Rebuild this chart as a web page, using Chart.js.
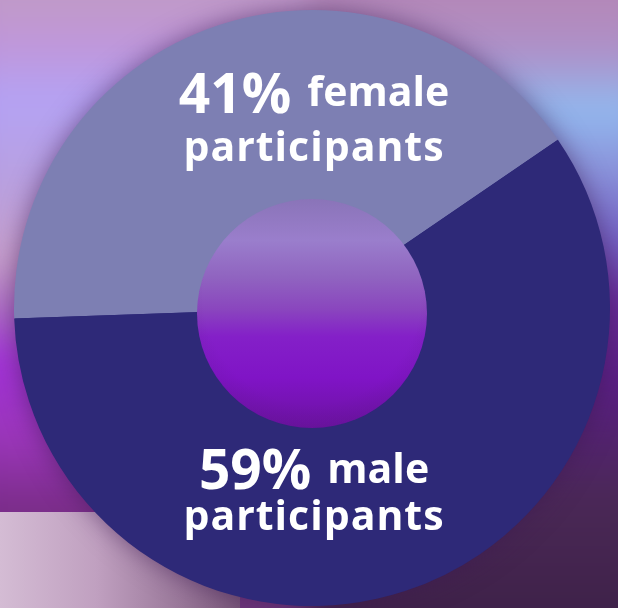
<!DOCTYPE html>
<html>
<head>
<meta charset="utf-8">
<script src="https://cdn.jsdelivr.net/npm/chart.js@4.4.1/dist/chart.umd.min.js"></script>
<style>
  html, body { margin: 0; padding: 0; }
  body { width: 618px; height: 608px; overflow: hidden; position: relative; background: #7a4a98; }
  /* soft blurred backdrop */
  .bg { position: absolute; left: -30px; top: -30px; width: 678px; height: 668px; filter: blur(14px); }
  .bg .l, .bg .r { position: absolute; top: 0; height: 100%; width: 50%; }
  .bg .l {
    left: 0;
    background: linear-gradient(to bottom,
      #c09ac8 30px, #c096d8 70px, #b4a2f4 130px, #b8a0e0 210px, #c8a0cc 290px,
      #b070c8 340px, #a332d8 390px, #9a36b8 470px, #7a2c88 540px, #6a3a78 668px);
  }
  .bg .r {
    right: 0;
    background: linear-gradient(to bottom,
      #b488b8 30px, #ae90c8 80px, #92b8ee 140px, #8a92da 200px, #7462c4 270px,
      #6a2c9c 330px, #5a1e84 410px, #4a2856 530px, #3c2046 668px);
  }
  .floor {
    position: absolute; left: 0; top: 512px; width: 240px; height: 96px;
    background: linear-gradient(to right, #d4bcd4 0%, #c0a0c0 40%, #9a789a 75%, #7a587a 100%);
  }
  #donut { position: absolute; left: 0; top: 0; }
  .orb {
    position: absolute; left: 197px; top: 199px; width: 230px; height: 229px; border-radius: 50%;
    background:
      radial-gradient(circle at 50% 42%, rgba(0,0,0,0) 62%, rgba(70,20,100,0.35) 100%),
      linear-gradient(to bottom, #8a74b8 0%, #9a7ecc 18%, #9064c0 34%, #8a46be 48%, #8420c8 60%, #8014c6 78%, #6c12a2 100%);
  }
</style>
</head>
<body>
<div class="bg"><div class="l"></div><div class="r"></div></div>
<div class="floor"></div>
<canvas id="donut" width="618" height="608"></canvas>
<div class="orb"></div>
<script>
const categories = ['female', 'male'];
const shares = [41, 59];
const sliceColors = ['#7d7fb3', '#2e2978'];

// dark glow under the whole ring, drawn once so slices don't shade each other
const ringShadow = {
  id: 'ringShadow',
  beforeDatasetsDraw(chart) {
    const arc = chart.getDatasetMeta(0).data[0];
    const c = chart.ctx;
    c.save();
    c.shadowColor = 'rgba(60, 25, 80, 0.6)';
    c.shadowBlur = 26;
    c.fillStyle = sliceColors[1];
    c.beginPath();
    c.arc(arc.x, arc.y, arc.outerRadius - 1, 0, Math.PI * 2);
    c.arc(arc.x, arc.y, arc.innerRadius + 1, 0, Math.PI * 2, true);
    c.fill('evenodd');
    c.restore();
  }
};

// two-line captions: big percentage + category, then "participants"
const captionPos = [
  { num: -195, word: -202, second: -147 },
  { num: 181, word: 175, second: 222 }
];

const sliceCaptions = {
  id: 'sliceCaptions',
  afterDatasetsDraw(chart) {
    const arc = chart.getDatasetMeta(0).data[0];
    const c = chart.ctx;
    const numFont = 'bold 55px "Open Sans"';
    const wordFont = 'bold 41px "Open Sans"';
    const gap = 16;
    c.save();
    c.fillStyle = '#ffffff';
    c.textBaseline = 'alphabetic';
    categories.forEach((name, i) => {
      const pos = captionPos[i];
      const num = shares[i] + '%';
      c.letterSpacing = '0px';
      c.textAlign = 'left';
      c.font = numFont;
      const wNum = c.measureText(num).width;
      c.font = wordFont;
      const wWord = c.measureText(name).width;
      const x0 = arc.x + 2 - (wNum + gap + wWord) / 2;
      c.font = numFont;
      c.fillText(num, x0, arc.y + pos.num);
      c.font = wordFont;
      c.fillText(name, x0 + wNum + gap, arc.y + pos.word);
      c.letterSpacing = '1px';
      c.textAlign = 'center';
      c.fillText('participants', arc.x + 2, arc.y + pos.second);
    });
    c.restore();
  }
};

new Chart(document.getElementById('donut'), {
  type: 'doughnut',
  data: {
    labels: categories,
    datasets: [{
      data: shares,
      backgroundColor: sliceColors,
      borderWidth: 0
    }]
  },
  options: {
    responsive: false,
    animation: false,
    rotation: -92,
    cutout: '35%',
    layout: { padding: { left: 14, right: 8, top: 10, bottom: 2 } },
    plugins: {
      legend: { display: false },
      tooltip: { enabled: false }
    }
  },
  plugins: [ringShadow, sliceCaptions]
});
</script>
</body>
</html>
